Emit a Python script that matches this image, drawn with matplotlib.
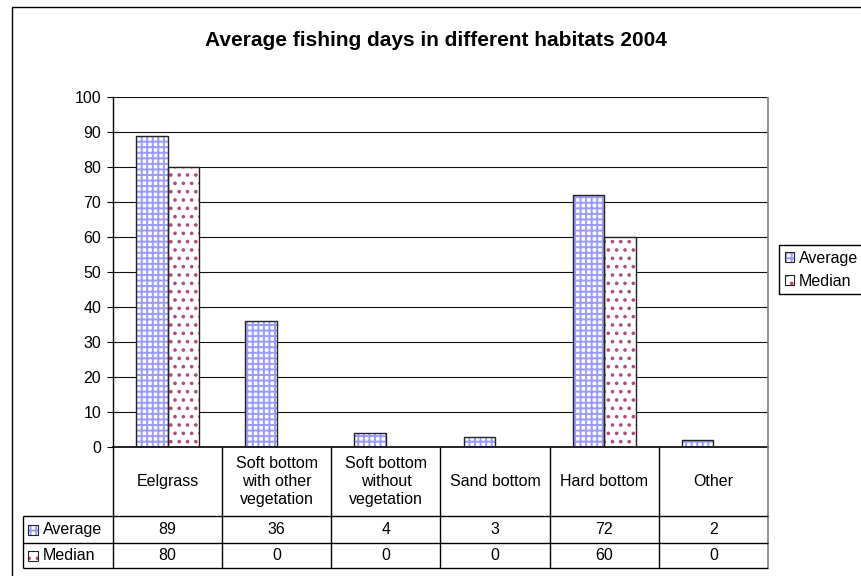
import matplotlib
matplotlib.use("Agg")
import matplotlib.pyplot as plt
import matplotlib.transforms as mtransforms
from matplotlib.lines import Line2D
from matplotlib.patches import Patch, Rectangle
import numpy as np

# data
categories = ["Eelgrass", "Soft bottom\nwith other\nvegetation", "Soft bottom\nwithout\nvegetation",
              "Sand bottom", "Hard bottom", "Other"]
average = [89, 36, 4, 3, 72, 2]
median = [80, 0, 0, 0, 60, 0]
series = ["Average", "Median"]
yticks = list(range(0, 101, 10))
title = "Average fishing days in different habitats 2004"

W, H = 862, 576
plt.rcParams["font.family"] = ["Liberation Sans", "DejaVu Sans"]
plt.rcParams["font.size"] = 11.5
plt.rcParams["hatch.linewidth"] = 1.4

STYLE = {"Average": dict(hatch="+++", color="#9a9aff"),
         "Median": dict(hatch="..", color="#b04a80")}


def fx(px):
    return px / W


def fy(py):
    return 1 - py / H


def line(xs, ys, color="black", lw=1.0, transform=None):
    fig.add_artist(Line2D(xs, ys, color=color, lw=lw, transform=transform or fig.transFigure,
                          clip_on=False, solid_capstyle="butt"))


fig = plt.figure(figsize=(W / 100, H / 100), dpi=100)
ax = fig.add_axes([fx(113), fy(447), fx(768) - fx(113), (447 - 97) / H])

x = np.arange(len(categories))
w = 0.288
for vals, off, name in [(average, -w / 2, "Average"), (median, w / 2, "Median")]:
    st = STYLE[name]
    ax.bar(x + off, vals, w, color="white", edgecolor=st["color"], hatch=st["hatch"],
           linewidth=0, zorder=2)
    ax.bar(x + off, vals, w, fill=False, edgecolor="#222222", linewidth=1, zorder=3)

ax.set_xlim(-0.5, len(categories) - 0.5)
ax.set_ylim(0, 100)
ax.set_yticks(yticks)
ax.set_xticks([])
ax.yaxis.grid(True, color="#111111", lw=0.8)
ax.set_axisbelow(True)
for s in ("top", "right"):
    ax.spines[s].set_visible(False)
ax.spines["left"].set_linewidth(1)
ax.spines["bottom"].set_linewidth(1.2)
ax.tick_params(axis="y", direction="out", length=4.5, width=0.8, pad=4, labelsize=11.5)

# data table under the plot
bt = mtransforms.blended_transform_factory(ax.transData, fig.transFigure)
for i in range(len(categories)):
    line([i - 0.5, i - 0.5], [fy(447), fy(568)], transform=bt)
line([fx(768), fx(768)], [fy(97), fy(568)], color="#808080", lw=1.2)
for yy in (516, 543, 568):
    line([fx(23), fx(768)], [fy(yy), fy(yy)])
line([fx(23), fx(23)], [fy(516), fy(568)])

for i, cat in enumerate(categories):
    fig.text(i, fy(481.5), cat, transform=bt, ha="center", va="center", linespacing=1.25)
for row_y, name, vals in [(529.5, "Average", average), (555.5, "Median", median)]:
    for i, v in enumerate(vals):
        fig.text(i, fy(row_y), str(v), transform=bt, ha="center", va="center")
    st = STYLE[name]
    for kw in (dict(facecolor="white", edgecolor=st["color"], hatch=st["hatch"], lw=0),
               dict(fill=False, edgecolor="#222222", lw=0.8)):
        fig.add_artist(Rectangle((fx(28), fy(row_y + 5)), fx(38) - fx(28), 10 / H,
                                 transform=fig.transFigure, **kw))
    fig.text(fx(43), fy(row_y), name, ha="left", va="center")

# legend
handles = [(Patch(facecolor="white", edgecolor=STYLE[n]["color"], hatch=STYLE[n]["hatch"], lw=0),
            Patch(fill=False, edgecolor="#222222", lw=0.8)) for n in series]
fig.legend(handles, series, loc="upper left", bbox_to_anchor=(fx(779), fy(245)),
           borderaxespad=0, fancybox=False, edgecolor="black", framealpha=1,
           handlelength=0.6, handleheight=0.6, handletextpad=0.3, borderpad=0.35,
           labelspacing=0.5, fontsize=11.5).get_frame().set_linewidth(1)

# chart frame
line([fx(12), fx(12), 1.01], [-0.01, fy(7), fy(7)])

fig.text(fx(436), fy(40), title, ha="center", va="center", fontsize=15, fontweight="bold")

fig.savefig("out.png", dpi=100)
